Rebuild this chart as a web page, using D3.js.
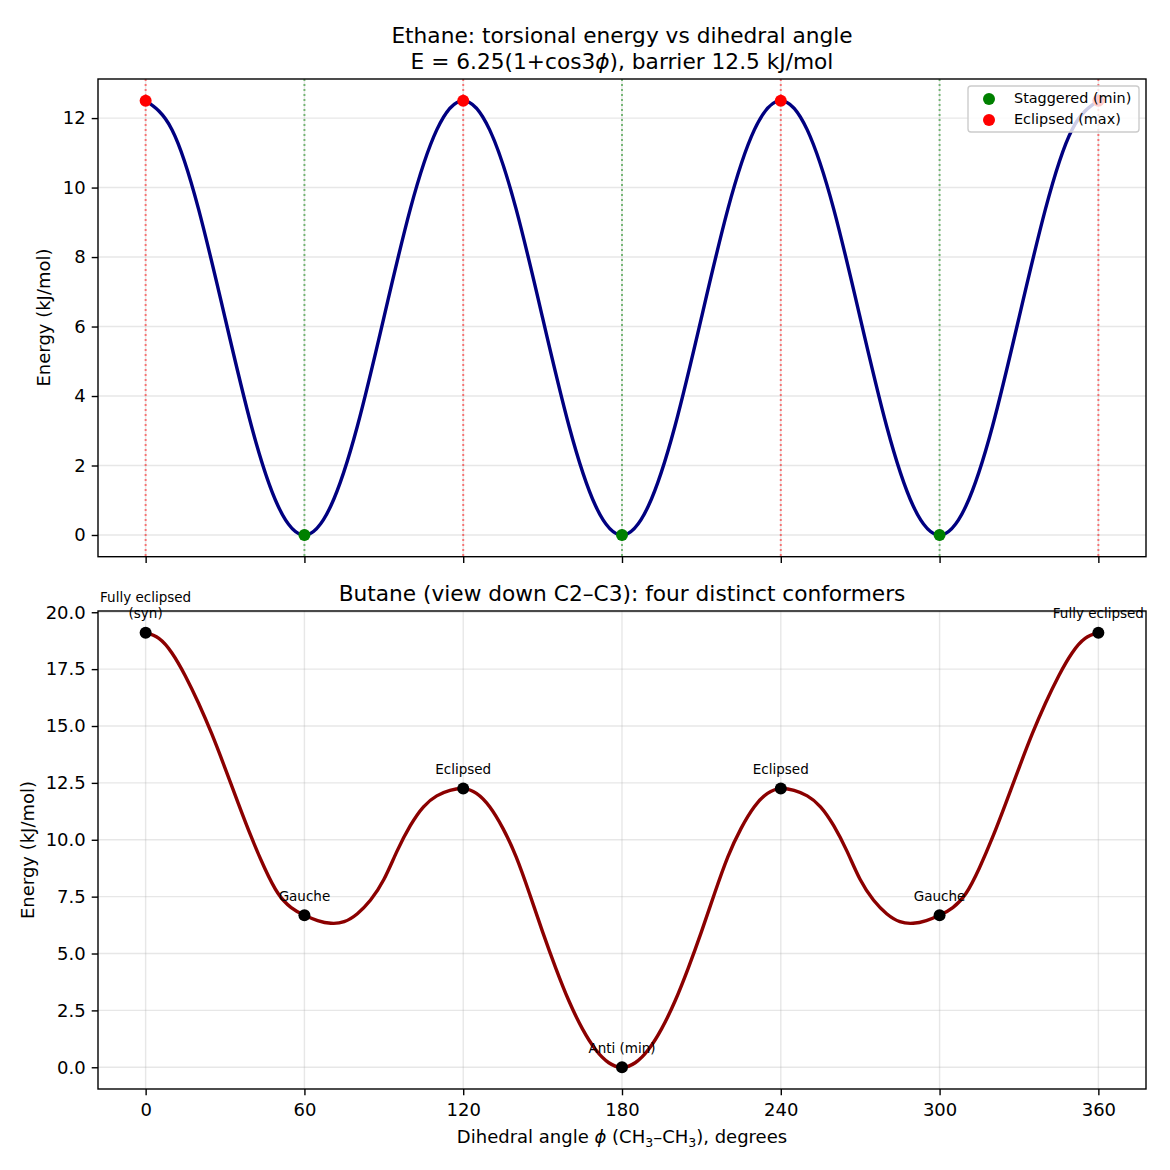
<!DOCTYPE html>
<html>
<head>
<meta charset="utf-8">
<script src="https://cdn.jsdelivr.net/npm/d3@7"></script>
<style>
  body { margin: 0; background: #fff; }
  svg { font-family: "DejaVu Sans", sans-serif; }
</style>
</head>
<body>
<div id="chart"></div>
<script>
const ethaneAngles = [0, 10, 20, 30, 40, 50, 60, 70, 80, 90, 100, 110, 120, 130, 140, 150, 160, 170, 180,
  190, 200, 210, 220, 230, 240, 250, 260, 270, 280, 290, 300, 310, 320, 330, 340, 350, 360];
const ethaneEnergy = [12.5, 11.66, 9.38, 6.25, 3.13, 0.84, 0, 0.84, 3.13, 6.25, 9.38, 11.66, 12.5,
  11.66, 9.38, 6.25, 3.13, 0.84, 0, 0.84, 3.13, 6.25, 9.38, 11.66, 12.5,
  11.66, 9.38, 6.25, 3.13, 0.84, 0, 0.84, 3.13, 6.25, 9.38, 11.66, 12.5];

const butaneAngles = [0, 5, 10, 15, 20, 25, 30, 35, 40, 45, 50, 55, 60, 65, 70, 75, 80, 85, 90,
  95, 100, 105, 110, 115, 120, 125, 130, 135, 140, 145, 150, 155, 160, 165, 170, 175, 180,
  185, 190, 195, 200, 205, 210, 215, 220, 225, 230, 235, 240, 245, 250, 255, 260, 265, 270,
  275, 280, 285, 290, 295, 300, 305, 310, 315, 320, 325, 330, 335, 340, 345, 350, 355, 360];
const butaneEnergy = [19.1, 18.85, 18.2, 17.2, 16.0, 14.65, 13.15, 11.6, 10.1, 8.75, 7.65, 7.02, 6.68,
  6.45, 6.33, 6.4, 6.75, 7.35, 8.25, 9.5, 10.62, 11.45, 11.93, 12.17, 12.25,
  12.04, 11.45, 10.5, 9.25, 7.65, 5.95, 4.35, 2.9, 1.7, 0.78, 0.2, 0,
  0.2, 0.78, 1.7, 2.9, 4.35, 5.95, 7.65, 9.25, 10.5, 11.45, 12.04, 12.25,
  12.17, 11.93, 11.45, 10.62, 9.5, 8.25, 7.35, 6.75, 6.4, 6.33, 6.45, 6.68,
  7.02, 7.65, 8.75, 10.1, 11.6, 13.15, 14.65, 16.0, 17.2, 18.2, 18.85, 19.1];

const staggeredAngles = [60, 180, 300];
const eclipsedAngles = [0, 120, 240, 360];

const conformerAngles = [0, 60, 120, 180, 240, 300, 360];
const conformerLabels = [["Fully eclipsed", "(syn)"], ["Gauche"], ["Eclipsed"], ["Anti (min)"],
  ["Eclipsed"], ["Gauche"], ["Fully eclipsed"]];

const xTicks = [0, 60, 120, 180, 240, 300, 360];
const topYTicks = [0, 2, 4, 6, 8, 10, 12];
const bottomYTicks = [0, 2.5, 5, 7.5, 10, 12.5, 15, 17.5, 20];

const width = 1170, height = 1170;
const left = 98, right = 1146;
const tickLen = 6.3;

const svg = d3.select("#chart").append("svg")
  .attr("width", width)
  .attr("height", height);

svg.append("rect").attr("width", width).attr("height", height).attr("fill", "#fff");

const xScale = d3.scaleLinear().domain([-18, 378]).range([left, right]);
const yTop = d3.scaleLinear().domain([-0.625, 13.125]).range([556.7, 79]);
const yBot = d3.scaleLinear().domain([-0.955, 20.055]).range([1089, 611]);

const ethane = ethaneAngles.map((a, i) => [a, ethaneEnergy[i]]);
const butane = butaneAngles.map((a, i) => [a, butaneEnergy[i]]);
const energyAt = (a) => butaneEnergy[butaneAngles.indexOf(a)];

function drawGrid(g, yScale, yTicks) {
  const [y0, y1] = yScale.range();
  g.selectAll("line.gx").data(xTicks).enter().append("line")
    .attr("x1", d => xScale(d)).attr("x2", d => xScale(d))
    .attr("y1", y0).attr("y2", y1)
    .attr("stroke", "#b0b0b0").attr("stroke-opacity", 0.3).attr("stroke-width", 1.4);
  g.selectAll("line.gy").data(yTicks).enter().append("line")
    .attr("x1", left).attr("x2", right)
    .attr("y1", d => yScale(d)).attr("y2", d => yScale(d))
    .attr("stroke", "#b0b0b0").attr("stroke-opacity", 0.3).attr("stroke-width", 1.4);
}

function drawAxes(g, yScale, yTicks, yFormat, showX) {
  const [y0, y1] = yScale.range();
  const ax = g.append("g")
    .attr("transform", `translate(0,${y0})`)
    .call(d3.axisBottom(xScale).tickValues(xTicks).tickSize(tickLen).tickPadding(8)
      .tickFormat(showX ? d3.format("d") : () => ""));
  const ay = g.append("g")
    .attr("transform", `translate(${left},0)`)
    .call(d3.axisLeft(yScale).tickValues(yTicks).tickSize(tickLen).tickPadding(6).tickFormat(yFormat));
  [ax, ay].forEach(a => {
    a.select(".domain").remove();
    a.selectAll("line").attr("stroke", "#000").attr("stroke-width", 1.4);
    a.selectAll("text").attr("font-size", 18).attr("fill", "#000")
      .attr("font-family", "DejaVu Sans, sans-serif");
  });
  g.append("rect")
    .attr("x", left).attr("y", y1)
    .attr("width", right - left).attr("height", y0 - y1)
    .attr("fill", "none").attr("stroke", "#000").attr("stroke-width", 1.4);
}

// ---------- top panel: ethane ----------
const topPanel = svg.append("g");
drawGrid(topPanel, yTop, topYTicks);

topPanel.selectAll("line.stag").data(staggeredAngles).enter().append("line")
  .attr("x1", d => xScale(d)).attr("x2", d => xScale(d))
  .attr("y1", 79).attr("y2", 556.7)
  .attr("stroke", "green").attr("stroke-opacity", 0.5)
  .attr("stroke-width", 2).attr("stroke-dasharray", "2,3");
topPanel.selectAll("line.ecl").data(eclipsedAngles).enter().append("line")
  .attr("x1", d => xScale(d)).attr("x2", d => xScale(d))
  .attr("y1", 79).attr("y2", 556.7)
  .attr("stroke", "red").attr("stroke-opacity", 0.5)
  .attr("stroke-width", 2).attr("stroke-dasharray", "2,3");

const lineTop = d3.line().x(d => xScale(d[0])).y(d => yTop(d[1])).curve(d3.curveNatural);
topPanel.append("path").datum(ethane)
  .attr("d", lineTop).attr("fill", "none")
  .attr("stroke", "#000080").attr("stroke-width", 3.4);

topPanel.selectAll("circle.stag").data(staggeredAngles).enter().append("circle")
  .attr("cx", d => xScale(d)).attr("cy", yTop(0)).attr("r", 6).attr("fill", "green");
topPanel.selectAll("circle.ecl").data(eclipsedAngles).enter().append("circle")
  .attr("cx", d => xScale(d)).attr("cy", yTop(12.5)).attr("r", 6).attr("fill", "red");

drawAxes(topPanel, yTop, topYTicks, d3.format("d"), false);

// legend
const leg = topPanel.append("g");
leg.append("rect")
  .attr("x", 968).attr("y", 86).attr("width", 171).attr("height", 46)
  .attr("rx", 3).attr("fill", "#fff").attr("fill-opacity", 0.8)
  .attr("stroke", "#cccccc").attr("stroke-width", 1.4);
const legItems = [["Staggered (min)", "green"], ["Eclipsed (max)", "red"]];
legItems.forEach(([label, color], i) => {
  leg.append("circle").attr("cx", 989).attr("cy", 99 + i * 21).attr("r", 6).attr("fill", color);
  leg.append("text").attr("x", 1014).attr("y", 98 + i * 21).attr("dy", "0.35em")
    .attr("font-size", 14.4).text(label);
});

// titles
svg.append("text").attr("x", 622).attr("y", 43).attr("text-anchor", "middle")
  .attr("font-size", 21.7).text("Ethane: torsional energy vs dihedral angle");
const t2 = svg.append("text").attr("x", 622).attr("y", 69).attr("text-anchor", "middle")
  .attr("font-size", 21.7);
t2.append("tspan").text("E = 6.25(1+cos3");
t2.append("tspan").attr("font-style", "italic").text("ϕ");
t2.append("tspan").text("), barrier 12.5 kJ/mol");

svg.append("text").attr("transform", "translate(44,317.5) rotate(-90)")
  .attr("text-anchor", "middle").attr("dy", "0.35em").attr("font-size", 18)
  .text("Energy (kJ/mol)");

// ---------- bottom panel: butane ----------
const botPanel = svg.append("g");
drawGrid(botPanel, yBot, bottomYTicks);

const lineBot = d3.line().x(d => xScale(d[0])).y(d => yBot(d[1])).curve(d3.curveNatural);
botPanel.append("path").datum(butane)
  .attr("d", lineBot).attr("fill", "none")
  .attr("stroke", "#8b0000").attr("stroke-width", 3.4);

botPanel.selectAll("circle.conf").data(conformerAngles).enter().append("circle")
  .attr("cx", d => xScale(d)).attr("cy", d => yBot(energyAt(d))).attr("r", 6).attr("fill", "#000");

drawAxes(botPanel, yBot, bottomYTicks, d3.format(".1f"), true);

conformerAngles.forEach((a, i) => {
  const lines = conformerLabels[i];
  const baseY = yBot(energyAt(a)) - 14.5;
  lines.forEach((ln, j) => {
    botPanel.append("text")
      .attr("x", xScale(a))
      .attr("y", baseY - (lines.length - 1 - j) * 16.5)
      .attr("text-anchor", "middle")
      .attr("font-size", 13.5)
      .text(ln);
  });
});

svg.append("text").attr("x", 622).attr("y", 601).attr("text-anchor", "middle")
  .attr("font-size", 21.7).text("Butane (view down C2–C3): four distinct conformers");

svg.append("text").attr("transform", "translate(28,850) rotate(-90)")
  .attr("text-anchor", "middle").attr("dy", "0.35em").attr("font-size", 18)
  .text("Energy (kJ/mol)");

const xl = svg.append("text").attr("x", 622).attr("y", 1143).attr("text-anchor", "middle")
  .attr("font-size", 18);
xl.append("tspan").text("Dihedral angle ");
xl.append("tspan").attr("font-style", "italic").text("ϕ");
xl.append("tspan").text(" (CH");
xl.append("tspan").attr("font-size", 12.5).attr("dy", 4).text("3");
xl.append("tspan").attr("dy", -4).text("–CH");
xl.append("tspan").attr("font-size", 12.5).attr("dy", 4).text("3");
xl.append("tspan").attr("dy", -4).text("), degrees");
</script>
</body>
</html>
